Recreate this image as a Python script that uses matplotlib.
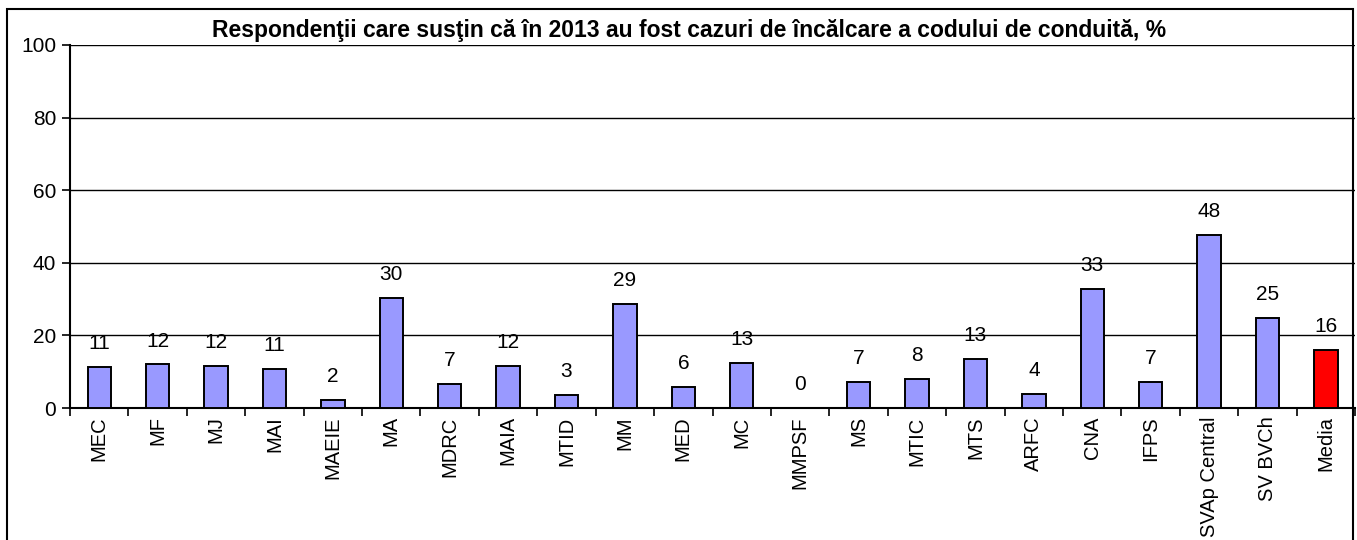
import numpy as np
import matplotlib.pyplot as plt
from matplotlib.patches import Rectangle

plt.rcParams['font.family'] = ['Liberation Sans', 'DejaVu Sans']

categorii = ['MEC', 'MF', 'MJ', 'MAI', 'MAEIE', 'MA', 'MDRC', 'MAIA', 'MTID', 'MM',
             'MED', 'MC', 'MMPSF', 'MS', 'MTIC', 'MTS', 'ARFC', 'CNA', 'IFPS',
             'SVAp Central', 'SV BVCh', 'Media']
valori = [11.3, 12.0, 11.6, 10.7, 2.2, 30.3, 6.6, 11.7, 3.6, 28.6,
          5.8, 12.4, 0.0, 7.2, 8.0, 13.4, 3.9, 32.8, 7.2, 47.7, 24.8, 16.0]
etichete = ['11', '12', '12', '11', '2', '30', '7', '12', '3', '29',
            '6', '13', '0', '7', '8', '13', '4', '33', '7', '48', '25', '16']

fig = plt.figure(figsize=(13.57, 5.4), dpi=100)
ax = fig.add_axes([0.0516, 0.2444, 0.947, 0.6723])

x = np.arange(len(categorii))
culori = ['#9999FF'] * (len(categorii) - 1) + ['#FF0000']
ax.bar(x, valori, width=0.4, color=culori, edgecolor='black', linewidth=1.4, zorder=3)

for xi, v, t in zip(x, valori, etichete):
    ax.annotate(t, (xi, v), xytext=(0, 10), textcoords='offset points',
                ha='center', va='bottom', fontsize=15)

ax.set_xlim(-0.5, len(categorii) - 0.5)
ax.set_ylim(0, 100)
ax.set_yticks([0, 20, 40, 60, 80, 100])
ax.yaxis.grid(True, color='black', linewidth=1)
ax.set_axisbelow(True)

ax.set_xticks(x)
ax.set_xticklabels(categorii, rotation=90, fontsize=14.5)
ax.set_xticks(np.arange(len(categorii) + 1) - 0.5, minor=True)
ax.tick_params(axis='x', which='major', length=0, pad=6)
ax.tick_params(axis='x', which='minor', length=6, width=1.2, direction='out')
ax.tick_params(axis='y', length=6, width=1.2, labelsize=15, pad=4)

ax.spines['top'].set_visible(False)
ax.spines['right'].set_visible(False)
ax.spines['left'].set_linewidth(1.5)
ax.spines['bottom'].set_linewidth(1.5)

fig.text(0.508, 0.944, 'Respondenţii care susţin că în 2013 au fost cazuri de încălcare a codului de conduită, %',
         ha='center', va='center', fontsize=16.5, fontweight='bold')

fig.patches.append(Rectangle((0.005, -0.05), 0.992, 1.033, transform=fig.transFigure,
                             fill=False, edgecolor='black', linewidth=1.5))

plt.savefig('out.png', dpi=100)
